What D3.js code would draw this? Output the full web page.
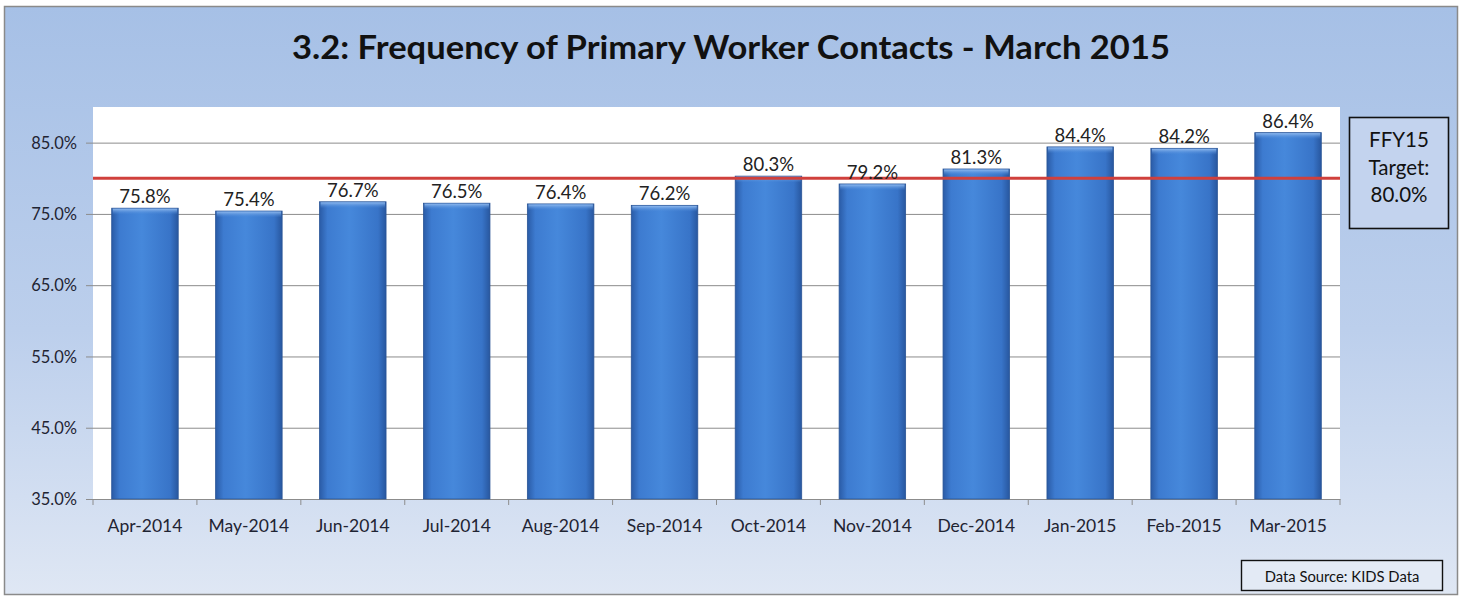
<!DOCTYPE html>
<html><head><meta charset="utf-8">
<script src="https://cdn.jsdelivr.net/npm/d3@7"></script>
<style>html,body{margin:0;padding:0;background:#fff;}svg{display:block;}</style>
</head><body>
<svg id="c" width="1463" height="596"></svg>
<script>
const categories = ["Apr-2014","May-2014","Jun-2014","Jul-2014","Aug-2014","Sep-2014","Oct-2014","Nov-2014","Dec-2014","Jan-2015","Feb-2015","Mar-2015"];
const values = [75.8,75.4,76.7,76.5,76.4,76.2,80.3,79.2,81.3,84.4,84.2,86.4];
const yTicks = [35,45,55,65,75,85];
const target = 80.0;
const title = "3.2: Frequency of Primary Worker Contacts - March 2015";
const targetLines = ["FFY15","Target:","80.0%"];
const sourceText = "Data Source: KIDS Data";

const svg = d3.select("#c");
const font = "Lato, 'Open Sans', sans-serif";
const defs = svg.append("defs");
const bg = defs.append("linearGradient").attr("id","bg").attr("x1",0).attr("y1",0).attr("x2",0).attr("y2",1);
bg.append("stop").attr("offset","0%").attr("stop-color","#a6c0e6");
bg.append("stop").attr("offset","55%").attr("stop-color","#bccfec");
bg.append("stop").attr("offset","100%").attr("stop-color","#dfe7f4");
const bar = defs.append("linearGradient").attr("id","bar").attr("x1",0).attr("y1",0).attr("x2",1).attr("y2",0);
bar.append("stop").attr("offset","0%").attr("stop-color","#2a5ba6");
bar.append("stop").attr("offset","12%").attr("stop-color","#3d7bd0");
bar.append("stop").attr("offset","45%").attr("stop-color","#4688db");
bar.append("stop").attr("offset","88%").attr("stop-color","#3874c8");
bar.append("stop").attr("offset","100%").attr("stop-color","#28579f");
const barTop = defs.append("linearGradient").attr("id","barTop").attr("x1",0).attr("y1",0).attr("x2",0).attr("y2",1);
barTop.append("stop").attr("offset","0%").attr("stop-color","#8fb9ee");
barTop.append("stop").attr("offset","100%").attr("stop-color","#4a88d8").attr("stop-opacity",0);

svg.append("rect").attr("x",4.5).attr("y",6.5).attr("width",1453).attr("height",588)
  .attr("fill","url(#bg)").attr("stroke","#8a8a8a").attr("stroke-width",1.5);

svg.append("text").attr("x",731).attr("y",59).attr("text-anchor","middle")
  .attr("font-family",font).attr("font-weight","bold").attr("font-size",33).attr("fill","#111")
  .attr("textLength",878).attr("lengthAdjust","spacingAndGlyphs")
  .text(title);

const L = 93, R = 1340, T = 107, B = 499;
svg.append("rect").attr("x",L).attr("y",T).attr("width",R-L).attr("height",B-T).attr("fill","#fff");

const x = d3.scaleBand().domain(categories).range([L,R]).paddingInner(0.36).paddingOuter(0.18);
const y = d3.scaleLinear().domain([35,90]).range([B,T]);

// gridlines
svg.append("g").selectAll("line").data(yTicks).join("line")
  .attr("x1",L).attr("x2",R).attr("y1",d=>y(d)+0.5).attr("y2",d=>y(d)+0.5)
  .attr("stroke","#8c8c8c").attr("stroke-width",1);

// y axis
const yAxis = svg.append("g").attr("transform",`translate(${L},0)`)
  .call(d3.axisLeft(y).tickValues(yTicks).tickFormat(d=>d.toFixed(1)+"%").tickSize(7).tickSizeOuter(0));
yAxis.select(".domain").remove();
yAxis.selectAll(".tick line").attr("stroke","#8c8c8c");
yAxis.selectAll("text").attr("font-family",font).attr("font-size",16.5).attr("fill","#1f2433").attr("dx",-6).attr("dy","0.35em");

// x axis
const xAxis = svg.append("g").attr("transform",`translate(0,${B})`)
  .call(d3.axisBottom(x).tickSize(0).tickPadding(21));
xAxis.select(".domain").attr("stroke","#8c8c8c");
xAxis.selectAll("text").attr("font-family",font).attr("font-size",17.5).attr("fill","#1f2433");
const step = x.step();
svg.append("g").selectAll("line").data(d3.range(categories.length+1)).join("line")
  .attr("x1",i=>L+i*step).attr("x2",i=>L+i*step).attr("y1",B).attr("y2",B+6)
  .attr("stroke","#8c8c8c");

// bars
const g = svg.append("g");
g.selectAll("rect.b").data(values).join("rect").attr("class","b")
  .attr("x",(d,i)=>x(categories[i])).attr("width",x.bandwidth())
  .attr("y",d=>y(d)).attr("height",d=>B-y(d))
  .attr("fill","url(#bar)").attr("stroke","#2a5597").attr("stroke-width",0.8);
g.selectAll("rect.t").data(values).join("rect").attr("class","t")
  .attr("x",(d,i)=>x(categories[i])+1).attr("width",x.bandwidth()-2)
  .attr("y",d=>y(d)+0.5).attr("height",6)
  .attr("fill","url(#barTop)");

// target line
svg.append("line").attr("x1",L).attr("x2",R).attr("y1",y(target)).attr("y2",y(target))
  .attr("stroke","#d0403c").attr("stroke-width",3.2);

// value labels
svg.append("g").selectAll("text").data(values).join("text")
  .attr("x",(d,i)=>x(categories[i])+x.bandwidth()/2).attr("y",d=>y(d)-5)
  .attr("text-anchor","middle").attr("font-family",font).attr("font-size",18.5).attr("fill","#222")
  .text(d=>d.toFixed(1)+"%");

// target box
svg.append("rect").attr("x",1349.5).attr("y",117.5).attr("width",99).attr("height",111)
  .attr("fill","#c3d3ee").attr("stroke","#111").attr("stroke-width",1.6);
svg.append("g").selectAll("text").data(targetLines).join("text")
  .attr("x",1399).attr("y",(d,i)=>147+i*27.5).attr("text-anchor","middle")
  .attr("font-family",font).attr("font-size",20.5).attr("fill","#111").text(d=>d);

// source box
svg.append("rect").attr("x",1241.5).attr("y",560.5).attr("width",201).attr("height",30)
  .attr("fill","#e3eaf5").attr("stroke","#111").attr("stroke-width",1.4);
svg.append("text").attr("x",1342).attr("y",582).attr("text-anchor","middle")
  .attr("font-family",font).attr("font-size",14.8).attr("fill","#111").text(sourceText);
</script>
</body></html>
